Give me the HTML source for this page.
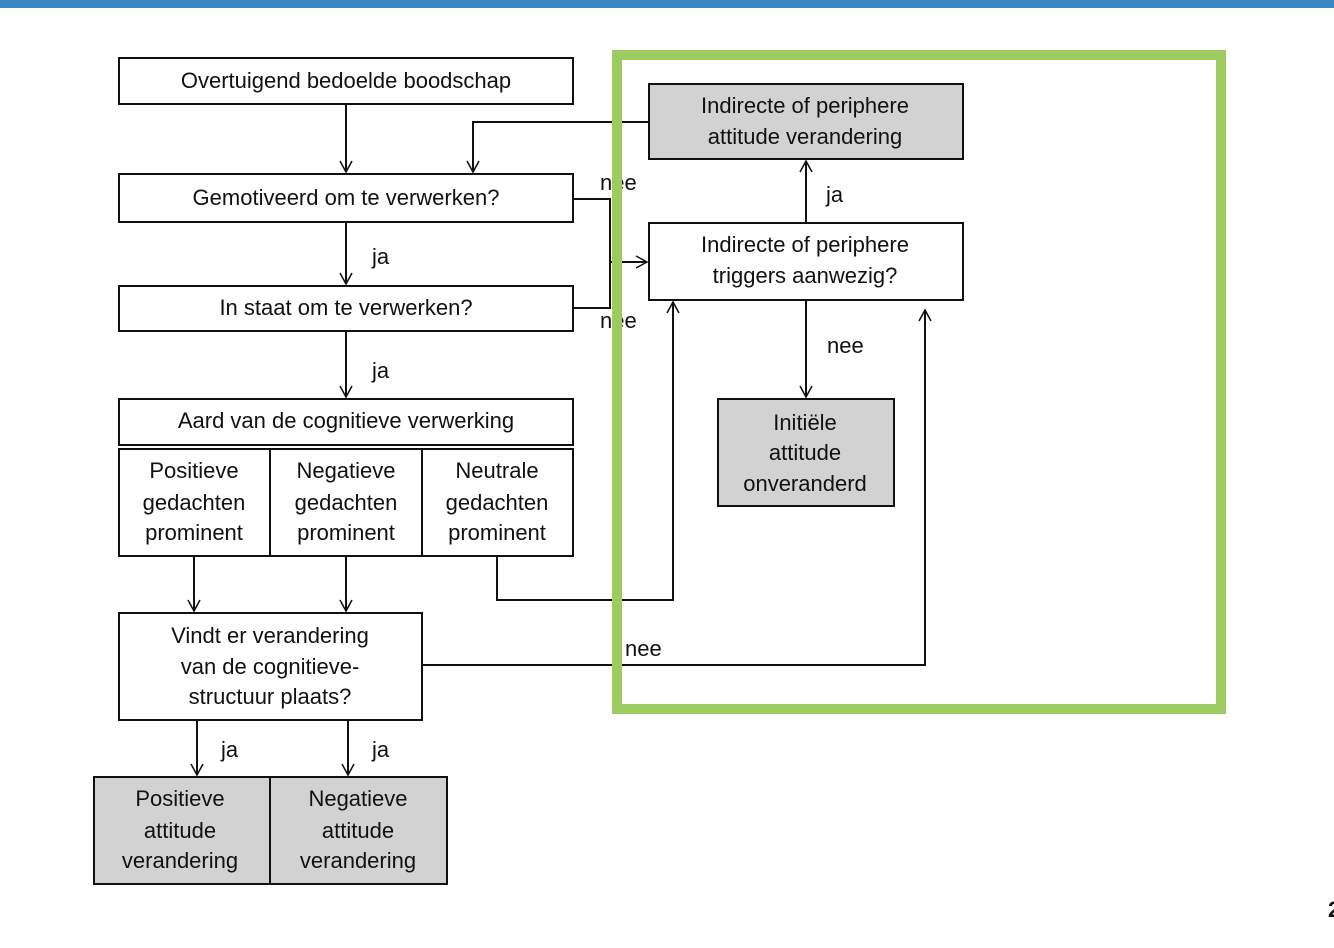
<!DOCTYPE html>
<html><head><meta charset="utf-8"><style>
body{margin:0;background:#fff;width:1334px;height:943px;overflow:hidden}
text{font-family:"Liberation Sans",sans-serif;font-size:22px;fill:#111}
</style></head><body>
<svg width="1334" height="943" xmlns="http://www.w3.org/2000/svg">
<defs><marker id="a" markerWidth="14" markerHeight="14" refX="12" refY="7" orient="auto" markerUnits="userSpaceOnUse"><path d="M1,1 L12,7 L1,13" fill="none" stroke="#111" stroke-width="1.5"/></marker></defs>
<rect x="0" y="0" width="1334" height="8" fill="#3c87c1"/>
<g fill="#fff" stroke="#111" stroke-width="2">
<rect x="119" y="58" width="454" height="46"/>
<rect x="119" y="174" width="454" height="48"/>
<rect x="119" y="286" width="454" height="45"/>
<rect x="119" y="399" width="454" height="46"/>
<rect x="119" y="449" width="151" height="107"/>
<rect x="270" y="449" width="152" height="107"/>
<rect x="422" y="449" width="151" height="107"/>
<rect x="119" y="613" width="303" height="107"/>
<rect x="94" y="777" width="176" height="107" fill="#d2d2d2"/>
<rect x="270" y="777" width="177" height="107" fill="#d2d2d2"/>
<rect x="649" y="84" width="314" height="75" fill="#d2d2d2"/>
<rect x="649" y="223" width="314" height="77"/>
<rect x="718" y="399" width="176" height="107" fill="#d2d2d2"/>
</g>
<g fill="none" stroke="#111" stroke-width="2">
<path d="M346,104 V172" marker-end="url(#a)"/>
<path d="M346,222 V284" marker-end="url(#a)"/>
<path d="M346,331 V397" marker-end="url(#a)"/>
<path d="M649,122 H473 V172" marker-end="url(#a)"/>
<path d="M573,199 H610 V308 H573"/>
<path d="M610,262 H647" marker-end="url(#a)"/>
<path d="M194,556 V611" marker-end="url(#a)"/>
<path d="M346,556 V611" marker-end="url(#a)"/>
<path d="M497,556 V600 H673 V302" marker-end="url(#a)"/>
<path d="M422,665 H925 V310" marker-end="url(#a)"/>
<path d="M806,223 V161" marker-end="url(#a)"/>
<path d="M806,300 V397" marker-end="url(#a)"/>
<path d="M197,720 V775" marker-end="url(#a)"/>
<path d="M348,720 V775" marker-end="url(#a)"/>
</g>
<text x="600" y="190">nee</text>
<text x="600" y="328">nee</text>
<rect x="617" y="55" width="604" height="654" fill="none" stroke="#9dcb5f" stroke-width="10"/>
<g text-anchor="middle">
<text x="346" y="88">Overtuigend bedoelde boodschap</text>
<text x="346" y="205">Gemotiveerd om te verwerken?</text>
<text x="346" y="315">In staat om te verwerken?</text>
<text x="346" y="428">Aard van de cognitieve verwerking</text>
<text x="194" y="478">Positieve</text><text x="194" y="510">gedachten</text><text x="194" y="540">prominent</text>
<text x="346" y="478">Negatieve</text><text x="346" y="510">gedachten</text><text x="346" y="540">prominent</text>
<text x="497" y="478">Neutrale</text><text x="497" y="510">gedachten</text><text x="497" y="540">prominent</text>
<text x="270" y="643">Vindt er verandering</text><text x="270" y="674">van de cognitieve-</text><text x="270" y="704">structuur plaats?</text>
<text x="180" y="806">Positieve</text><text x="180" y="838">attitude</text><text x="180" y="868">verandering</text>
<text x="358" y="806">Negatieve</text><text x="358" y="838">attitude</text><text x="358" y="868">verandering</text>
<text x="805" y="113">Indirecte of periphere</text><text x="805" y="144">attitude verandering</text>
<text x="805" y="252">Indirecte of periphere</text><text x="805" y="283">triggers aanwezig?</text>
<text x="805" y="430">Initiële</text><text x="805" y="460">attitude</text><text x="805" y="491">onveranderd</text>
</g>
<text x="372" y="264">ja</text>
<text x="372" y="378">ja</text>
<text x="625" y="656">nee</text>
<text x="826" y="202">ja</text>
<text x="827" y="353">nee</text>
<text x="221" y="757">ja</text>
<text x="372" y="757">ja</text>
<text x="1328" y="917" style="font-weight:bold">2</text>
</svg>
</body></html>
